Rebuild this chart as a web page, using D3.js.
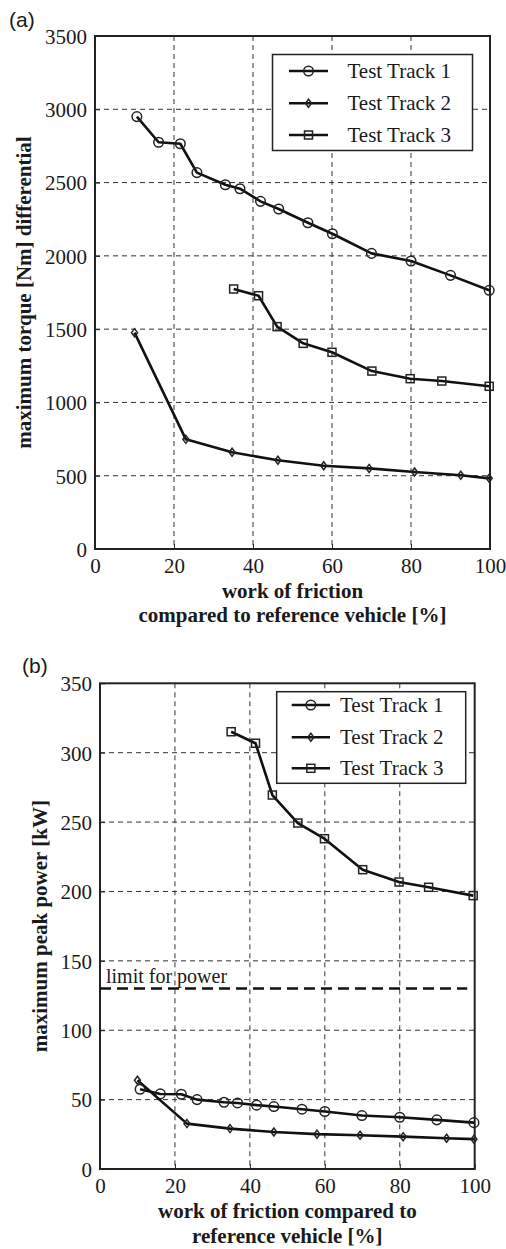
<!DOCTYPE html>
<html>
<head>
<meta charset="utf-8">
<script src="https://cdn.jsdelivr.net/npm/d3@7"></script>
<style>
	body { margin: 0; background: #fff; }
	svg { display: block; }
</style>
</head>
<body>
<div id="chart"></div>
<script>
// x = work of friction compared to reference vehicle [%]
var track_names = ["Test Track 1", "Test Track 2", "Test Track 3"];
var track_markers = ["circle", "diamond", "square"];

// (a) maximum torque [Nm] differential
var torque_x1 = [10.6, 16.1, 21.6, 25.8, 33.0, 36.7, 41.9, 46.5, 53.9, 60.1, 70.0, 80.0, 90.0, 99.8];
var torque_y1 = [2950, 2775, 2765, 2568, 2485, 2458, 2372, 2320, 2226, 2151, 2017, 1965, 1867, 1765];
var torque_x2 = [10.0, 23.0, 34.7, 46.3, 57.9, 69.4, 80.9, 92.6, 99.8];
var torque_y2 = [1476, 748, 660, 605, 568, 550, 525, 503, 482];
var torque_x3 = [35.1, 41.4, 46.1, 52.7, 60.0, 70.1, 79.8, 87.8, 99.8];
var torque_y3 = [1774, 1728, 1517, 1403, 1342, 1214, 1162, 1146, 1110];
var torque_ticks = [0, 500, 1000, 1500, 2000, 2500, 3000, 3500];

// (b) maximum peak power [kW]
var power_x1 = [10.7, 16.1, 21.7, 25.9, 33.1, 36.7, 41.8, 46.4, 53.9, 60.0, 69.9, 80.0, 89.9, 99.8];
var power_y1 = [57.5, 54.1, 53.9, 50.0, 48.1, 47.6, 46.0, 45.0, 43.1, 41.4, 38.5, 37.3, 35.4, 33.4];
var power_x2 = [10.0, 23.2, 34.7, 46.4, 57.9, 69.4, 80.9, 92.5, 99.8];
var power_y2 = [64.0, 32.7, 29.1, 26.7, 25.1, 24.3, 23.3, 22.2, 21.5];
var power_x3 = [35.0, 41.5, 46.0, 52.8, 59.9, 70.1, 79.8, 87.7, 99.6];
var power_y3 = [315.1, 306.8, 269.5, 249.3, 238.0, 215.7, 206.8, 203.0, 197.0];
var power_ticks = [0, 50, 100, 150, 200, 250, 300, 350];
var power_limit = 130;
var power_limit_x = [0, 98];

var x_ticks = [0, 20, 40, 60, 80, 100];

var SERIF = "'Liberation Serif', 'Times New Roman', serif";
var SANS = "'Liberation Sans', Arial, sans-serif";

var zip = function(xs, ys) {
	return xs.map(function(x, i) { return [x, ys[i]]; });
};

var LineChart = {};

LineChart.marker = function(g, type, cx, cy) {
	if(type == "circle") {
		g.append("circle").attr("cx", cx).attr("cy", cy).attr("r", 4.8);
	} else if(type == "square") {
		g.append("rect").attr("x", cx - 4).attr("y", cy - 4).attr("width", 8).attr("height", 8);
	} else {
		g.append("path").attr("d", "M" + cx + "," + (cy - 4) + "L" + (cx + 3) + "," + cy +
			"L" + cx + "," + (cy + 4) + "L" + (cx - 3) + "," + cy + "Z");
	}
};

LineChart.render = function(svg, p) {
	var x_scale = d3.scaleLinear().domain([0, 100]).range([p.left, p.right]);
	var y_scale = d3.scaleLinear().domain([0, p.y_max]).range([p.bottom, p.top]);

	var g = svg.append("g");

	// grid lines
	g.append("g").selectAll("line")
		.data(x_ticks.slice(1, -1))
		.enter().append("line")
		.attr("x1", function(d) { return x_scale(d); })
		.attr("x2", function(d) { return x_scale(d); })
		.attr("y1", p.top).attr("y2", p.bottom)
		.attr("stroke", "#333").attr("stroke-width", 1).attr("stroke-dasharray", "5,4");
	g.append("g").selectAll("line")
		.data(p.y_ticks.slice(1, -1))
		.enter().append("line")
		.attr("y1", function(d) { return y_scale(d); })
		.attr("y2", function(d) { return y_scale(d); })
		.attr("x1", p.left).attr("x2", p.right)
		.attr("stroke", "#333").attr("stroke-width", 1).attr("stroke-dasharray", "5,4");

	// axes
	var x_axis = d3.axisBottom(x_scale).tickValues(x_ticks).tickFormat(d3.format("d"))
		.tickSizeInner(-5).tickSizeOuter(0).tickPadding(10);
	var y_axis = d3.axisLeft(y_scale).tickValues(p.y_ticks).tickFormat(d3.format("d"))
		.tickSizeInner(-5).tickSizeOuter(0).tickPadding(8);
	var gx = g.append("g").attr("transform", "translate(0," + p.bottom + ")").call(x_axis);
	var gy = g.append("g").attr("transform", "translate(" + p.left + ",0)").call(y_axis);
	[gx, gy].forEach(function(a) {
		a.attr("font-family", SERIF).attr("font-size", 21);
		a.select(".domain").remove();
		a.selectAll(".tick line").attr("stroke", "#222");
		a.selectAll(".tick text").attr("fill", "#1a1a1a");
	});
	gx.selectAll(".tick text").attr("dy", "0.66em");
	gy.selectAll(".tick text").attr("dy", "0.35em");

	// frame
	g.append("rect")
		.attr("x", p.left).attr("y", p.top)
		.attr("width", p.right - p.left).attr("height", p.bottom - p.top)
		.attr("fill", "none").attr("stroke", "#222").attr("stroke-width", 2);

	// limit line (b only)
	if(p.limit != null) {
		g.append("line")
			.attr("x1", x_scale(p.limit_x[0])).attr("x2", x_scale(p.limit_x[1]))
			.attr("y1", y_scale(p.limit)).attr("y2", y_scale(p.limit))
			.attr("stroke", "#111").attr("stroke-width", 2.5).attr("stroke-dasharray", "11,6");
		g.append("text")
			.attr("font-family", SERIF).attr("font-size", 20).attr("fill", "#1a1a1a")
			.attr("x", x_scale(0) + 6).attr("y", y_scale(p.limit) - 6)
			.text("limit for power");
	}

	// series
	var line = d3.line()
		.x(function(d) { return x_scale(d[0]); })
		.y(function(d) { return y_scale(d[1]); });
	for(var i = 0; i < p.series.length; i++) {
		var s = p.series[i];
		g.append("path").datum(s)
			.attr("d", line)
			.attr("fill", "none").attr("stroke", "#111").attr("stroke-width", 2.6)
			.attr("stroke-linejoin", "round");
		var gm = g.append("g").attr("fill", "none").attr("stroke", "#222").attr("stroke-width", 1.5);
		for(var j = 0; j < s.length; j++) {
			LineChart.marker(gm, track_markers[i], x_scale(s[j][0]), y_scale(s[j][1]));
		}
	}

	// legend
	var L = p.legend;
	g.append("rect")
		.attr("x", L.x).attr("y", L.y).attr("width", L.w).attr("height", L.h)
		.attr("fill", "#fff").attr("stroke", "#222").attr("stroke-width", 1.5);
	for(var k = 0; k < track_names.length; k++) {
		var ry = L.rows[k];
		g.append("line")
			.attr("x1", L.line_x[0]).attr("x2", L.line_x[1])
			.attr("y1", ry).attr("y2", ry)
			.attr("stroke", "#111").attr("stroke-width", 2.6);
		var lm = g.append("g").attr("fill", "none").attr("stroke", "#222").attr("stroke-width", 1.5);
		LineChart.marker(lm, track_markers[k], (L.line_x[0] + L.line_x[1]) / 2, ry);
		g.append("text")
			.attr("font-family", SERIF).attr("font-size", 21).attr("fill", "#1a1a1a")
			.attr("x", L.text_x).attr("y", ry + 7)
			.text(track_names[k]);
	}

	// titles
	var cx = (p.left + p.right) / 2;
	for(var t = 0; t < p.x_title.length; t++) {
		g.append("text")
			.attr("font-family", SERIF).attr("font-size", 21).attr("font-weight", "bold").attr("fill", "#1a1a1a")
			.attr("text-anchor", "middle")
			.attr("x", cx).attr("y", p.x_title_y[t])
			.text(p.x_title[t]);
	}
	g.append("text")
		.attr("font-family", SERIF).attr("font-size", 21).attr("font-weight", "bold").attr("fill", "#1a1a1a")
		.attr("text-anchor", "middle")
		.attr("transform", "translate(" + p.y_title_x + "," + (p.top + p.bottom) / 2 + ") rotate(-90)")
		.text(p.y_title);

	g.append("text")
		.attr("font-family", SANS).attr("font-size", 21).attr("fill", "#1a1a1a")
		.attr("x", p.panel_xy[0]).attr("y", p.panel_xy[1])
		.text(p.panel);
};

var svg = d3.select("#chart").append("svg")
	.attr("width", 506).attr("height", 1249);

LineChart.render(svg, {
	left: 95, right: 490, top: 36, bottom: 549,
	y_max: 3500, y_ticks: torque_ticks,
	series: [zip(torque_x1, torque_y1), zip(torque_x2, torque_y2), zip(torque_x3, torque_y3)],
	legend: { x: 272.5, y: 54.5, w: 200, h: 96, rows: [71, 103.3, 135], line_x: [289, 328], text_x: 347.5 },
	x_title: ["work of friction", "compared to reference vehicle [%]"],
	x_title_y: [598, 622],
	y_title: "maximum torque [Nm] differential",
	y_title_x: 31,
	panel: "(a)", panel_xy: [9, 27],
	limit: null
});

LineChart.render(svg, {
	left: 100, right: 474.7, top: 683.3, bottom: 1169,
	y_max: 350, y_ticks: power_ticks,
	series: [zip(power_x1, power_y1), zip(power_x2, power_y2), zip(power_x3, power_y3)],
	legend: { x: 276.7, y: 691.7, w: 189, h: 91.6, rows: [705, 737.3, 768.3], line_x: [291.7, 330], text_x: 340 },
	x_title: ["work of friction compared to", "reference vehicle [%]"],
	x_title_y: [1218, 1243],
	y_title: "maximum peak power [kW]",
	y_title_x: 47,
	panel: "(b)", panel_xy: [22, 673],
	limit: power_limit, limit_x: power_limit_x
});
</script>
</body>
</html>
